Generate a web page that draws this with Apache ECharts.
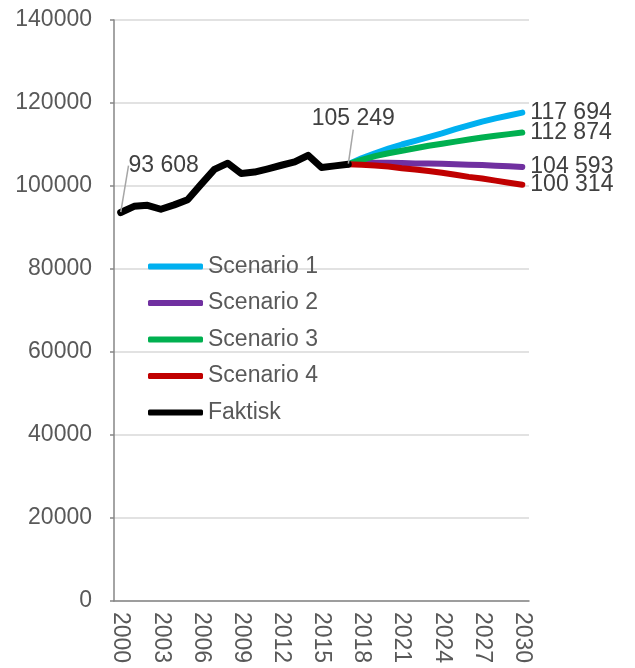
<!DOCTYPE html>
<html>
<head>
<meta charset="utf-8">
<script src="https://cdn.jsdelivr.net/npm/echarts@6/dist/echarts.min.js"></script>
<style>html,body{margin:0;padding:0;background:#fff}#c{width:635px;height:668px}</style>
</head>
<body>
<div id="c"></div>
<script>
var years = ['2000','2001','2002','2003','2004','2005','2006','2007','2008','2009','2010',
  '2011','2012','2013','2014','2015','2016','2017','2018','2019','2020',
  '2021','2022','2023','2024','2025','2026','2027','2028','2029','2030'];
var faktisk = [93608, 95100, 95350, 94400, 95450, 96700, 100400, 104000, 105500, 103000, 103350,
  104150, 105000, 105800, 107400, 104450, 104850, 105249];
// scenarios start in 2017
var scenarioStart = '2017';
var scenario1 = [105249, 106700, 107900, 109000, 110000, 110900, 111800, 112700, 113700, 114600, 115500, 116300, 117000, 117694];
var scenario2 = [105249, 105500, 105600, 105600, 105550, 105450, 105400, 105350, 105250, 105150, 105050, 104900, 104750, 104593];
var scenario3 = [105249, 106300, 107200, 107900, 108500, 109100, 109700, 110200, 110700, 111200, 111700, 112100, 112500, 112874];
var scenario4 = [105249, 105100, 104950, 104700, 104300, 104000, 103600, 103200, 102700, 102200, 101800, 101300, 100800, 100314];
var seriesNames = ['Scenario 1', 'Scenario 2', 'Scenario 3', 'Scenario 4', 'Faktisk'];
var colors = ['#00B0F0', '#7030A0', '#00B050', '#C00000', '#000000'];
var labeledFaktisk = [0, 17];

var FONT = 'Liberation Sans';
function fmt(v) { return String(v).replace(/\B(?=(\d{3})+(?!\d))/g, ' '); }
function pad(arr) {
  var off = years.indexOf(scenarioStart);
  var out = [];
  for (var i = 0; i < years.length; i++) {
    var j = i - off;
    out.push(j >= 0 && j < arr.length ? arr[j] : null);
  }
  return out;
}
var labelOffsets = { 0: [43, -35], 17: [5, -34] };

var scen = [scenario1, scenario2, scenario3, scenario4];
var series = [];
for (var k = 0; k < 4; k++) {
  series.push({
    name: seriesNames[k], type: 'line', data: pad(scen[k]), symbol: 'none',
    lineStyle: { color: colors[k], width: 6, cap: 'round', join: 'round' },
    itemStyle: { color: colors[k] },
    z: 2,
    endLabel: { show: true, formatter: function (p) { return fmt(p.value); },
      color: '#404040', fontSize: 23, fontFamily: FONT, distance: 8 }
  });
}
var fData = faktisk.map(function (v, i) {
  if (labeledFaktisk.indexOf(i) >= 0) {
    return { value: v, label: { show: true, position: 'top', distance: 0,
      formatter: function (p) { return fmt(p.value); },
      color: '#404040', fontSize: 23, fontFamily: FONT } };
  }
  return v;
});
series.push({
  name: 'Faktisk', type: 'line', data: fData, symbol: 'circle', symbolSize: 1, showSymbol: true,
  showAllSymbol: true,
  lineStyle: { color: '#000', width: 7, cap: 'round', join: 'round' },
  itemStyle: { color: '#000' }, z: 3,
  label: { show: false },
  labelLine: { show: true, lineStyle: { color: '#A6A6A6', width: 1.5 } },
  labelLayout: function (p) {
    var o = labelOffsets[p.dataIndex];
    if (!o) return {};
    return { dx: o[0], dy: o[1] };
  }
});

var chart = echarts.init(document.getElementById('c'), null, { renderer: 'canvas' });
chart.setOption({
  animation: false,
  backgroundColor: '#fff',
  textStyle: { fontFamily: FONT },
  grid: { left: 114, right: 106, top: 20, bottom: 67, containLabel: false },
  legend: {
    orient: 'vertical', left: 148, top: 255, padding: 0, itemWidth: 55, itemHeight: 6, itemGap: 13.5,
    icon: 'roundRect',
    data: seriesNames,
    textStyle: { color: '#595959', fontSize: 23, fontFamily: FONT }
  },
  xAxis: {
    type: 'category', data: years, boundaryGap: true,
    axisLine: { lineStyle: { color: '#868686', width: 1.5 } },
    axisTick: { show: false },
    axisLabel: { interval: 2, rotate: -90, color: '#595959', fontSize: 23, fontFamily: FONT, margin: 11 }
  },
  yAxis: {
    type: 'value', min: 0, max: 140000, interval: 20000,
    axisLine: { show: true, lineStyle: { color: '#868686', width: 1.5 } },
    axisTick: { show: true, length: 4, lineStyle: { color: '#868686', width: 1.5 } },
    splitLine: { lineStyle: { color: '#D9D9D9', width: 1.5 } },
    axisLabel: { color: '#595959', fontSize: 23, fontFamily: FONT, margin: 22,
      formatter: function (v) { return String(v); } }
  },
  series: series
});
</script>
</body>
</html>
